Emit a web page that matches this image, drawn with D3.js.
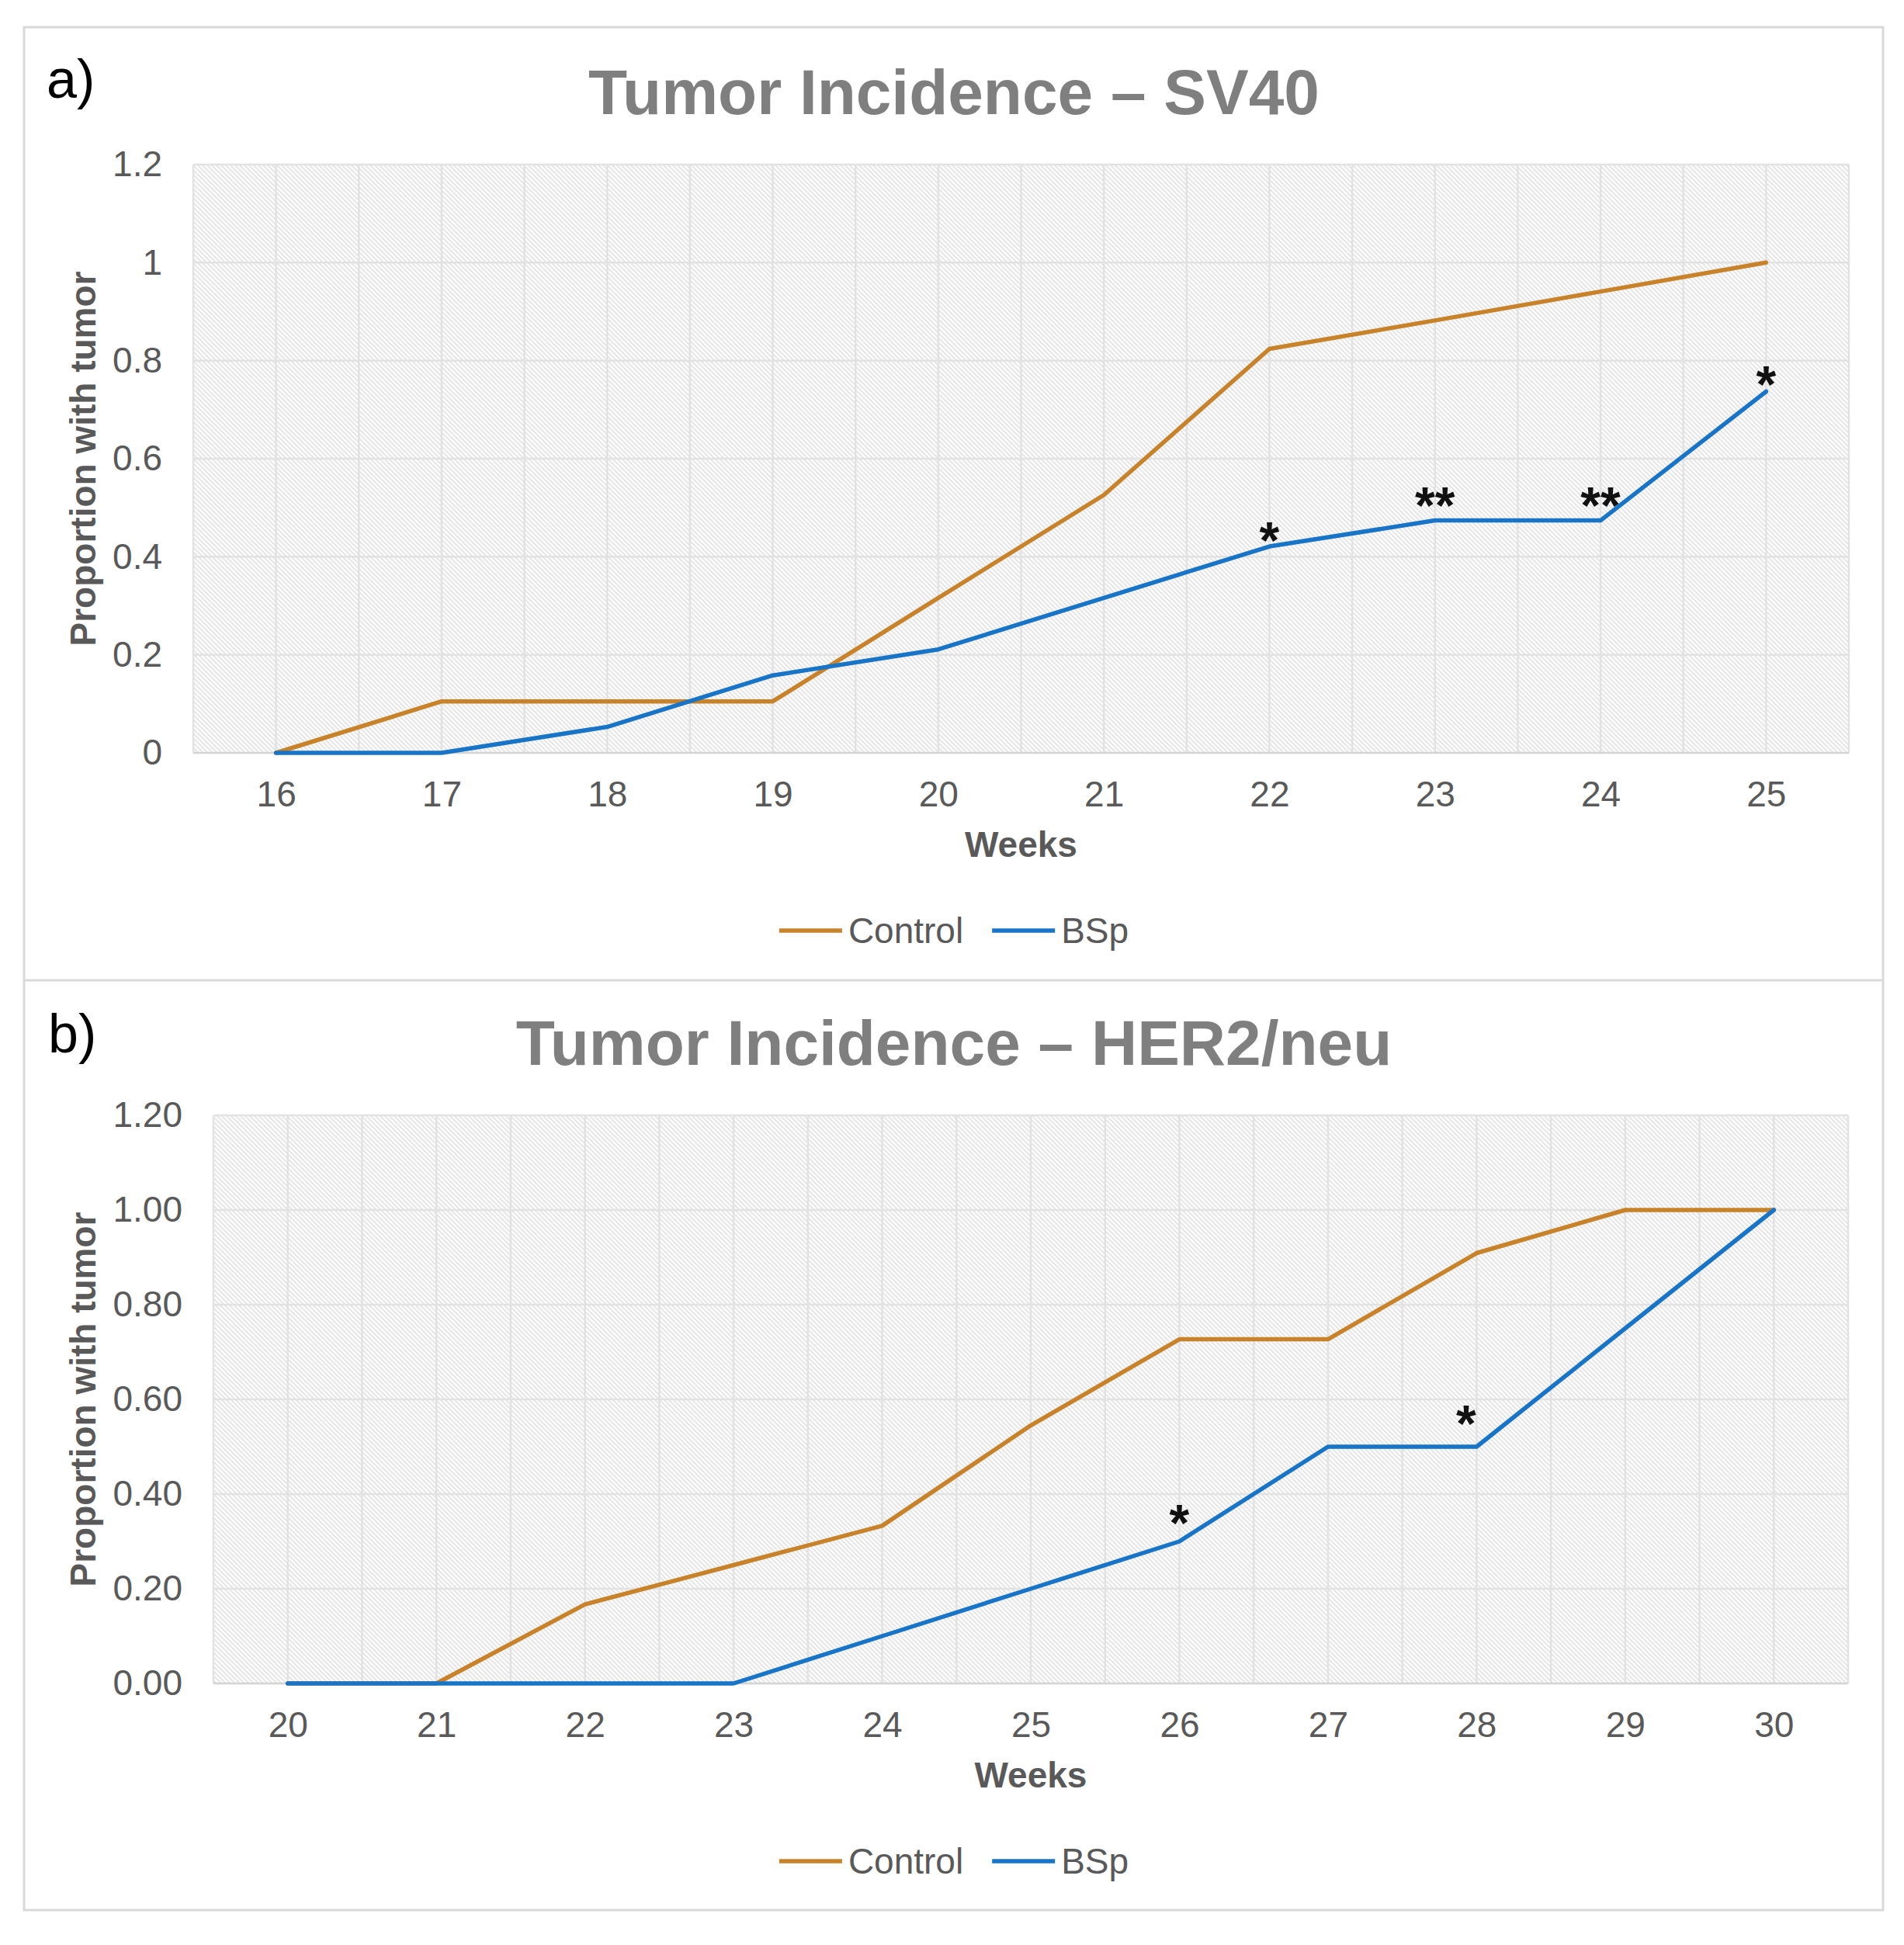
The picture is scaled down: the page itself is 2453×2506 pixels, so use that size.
<!DOCTYPE html>
<html>
<head>
<meta charset="utf-8">
<script src="https://cdn.jsdelivr.net/npm/d3@7"></script>
<style>
  html, body { margin: 0; padding: 0; background: #ffffff; }
  svg { display: block; font-family: "Liberation Sans", Arial, sans-serif; }
</style>
</head>
<body>
<svg id="chart" width="2453" height="2506"></svg>
<script>
// ---------- DATA ----------
const seriesNames = ["Control", "BSp"];

// Panel a) SV40
const weeksA = [16, 17, 18, 19, 20, 21, 22, 23, 24, 25];
const controlA = [0, 0.105, 0.105, 0.105, 0.316, 0.526, 0.824, 0.882, 0.941, 1.0];
const bspA = [0, 0, 0.053, 0.158, 0.211, 0.316, 0.421, 0.474, 0.474, 0.737];
const yTicksA = [0, 0.2, 0.4, 0.6, 0.8, 1, 1.2];
const yTickLabelsA = ["0", "0.2", "0.4", "0.6", "0.8", "1", "1.2"];
const annotWeeksA = [22, 23, 24, 25];
const annotValuesA = [0.458, 0.529, 0.529, 0.775];
const annotLabelsA = ["*", "**", "**", "*"];

// Panel b) HER2/neu
const weeksB = [20, 21, 22, 23, 24, 25, 26, 27, 28, 29, 30];
const controlB = [0, 0, 0.167, 0.25, 0.333, 0.545, 0.727, 0.727, 0.909, 1.0, 1.0];
const bspB = [0, 0, 0, 0, 0.1, 0.2, 0.3, 0.5, 0.5, 0.75, 1.0];
const yTicksB = [0, 0.2, 0.4, 0.6, 0.8, 1.0, 1.2];
const yTickLabelsB = ["0.00", "0.20", "0.40", "0.60", "0.80", "1.00", "1.20"];
const annotWeeksB = [26, 27.93];
const annotValuesB = [0.364, 0.574];
const annotLabelsB = ["*", "*"];

// ---------- STYLE ----------
const colors = { Control: "#C8822A", BSp: "#1874C6" };
const textGray = "#595959";
const titleGray = "#7f7f7f";
const gridColor = "#e2e2e2";
const lineW = 5.5;

const svg = d3.select("#chart");

// hatch pattern
const defs = svg.append("defs");
const pat = defs.append("pattern")
  .attr("id", "hatch")
  .attr("patternUnits", "userSpaceOnUse")
  .attr("width", 6).attr("height", 6);
pat.append("rect").attr("width", 6).attr("height", 6).attr("fill", "#fbfbfb");
pat.append("path")
  .attr("d", "M0,0 L6,6 M-3,3 L3,9 M3,-3 L9,3")
  .attr("stroke", "#e0e0e0").attr("stroke-width", 1.4);

// outer frame
svg.append("rect")
  .attr("x", 31).attr("y", 35).attr("width", 2395).attr("height", 2426)
  .attr("fill", "#ffffff").attr("stroke", "#d9d9d9").attr("stroke-width", 3);
svg.append("line")
  .attr("x1", 31).attr("x2", 2426).attr("y1", 1263).attr("y2", 1263)
  .attr("stroke", "#d9d9d9").attr("stroke-width", 3);

function drawPanel(cfg) {
  const g = svg.append("g");
  const { left, right, top, bottom } = cfg.plot;
  const weeks = cfg.weeks;
  const x = d3.scaleLinear()
    .domain([weeks[0] - 0.5, weeks[weeks.length - 1] + 0.5])
    .range([left, right]);
  const y = d3.scaleLinear().domain([0, 1.2]).range([bottom, top]);

  // background
  g.append("rect")
    .attr("x", left).attr("y", top)
    .attr("width", right - left).attr("height", bottom - top)
    .attr("fill", "url(#hatch)");

  // vertical gridlines every half week
  const vGrid = d3.range(weeks[0] - 0.5, weeks[weeks.length - 1] + 0.51, 0.5);
  g.selectAll(".vgrid").data(vGrid).enter().append("line")
    .attr("x1", d => x(d)).attr("x2", d => x(d))
    .attr("y1", top).attr("y2", bottom)
    .attr("stroke", gridColor).attr("stroke-width", 2.5);

  // horizontal gridlines
  g.selectAll(".hgrid").data(cfg.yTicks).enter().append("line")
    .attr("x1", left).attr("x2", right)
    .attr("y1", d => y(d)).attr("y2", d => y(d))
    .attr("stroke", d => d === 0 ? "#d4d4d4" : gridColor)
    .attr("stroke-width", 2.5);

  // y axis labels
  const yAxis = d3.axisLeft(y).tickValues(cfg.yTicks)
    .tickFormat((d, i) => cfg.yTickLabels[i]).tickSize(0).tickPadding(40);
  const ya = g.append("g").attr("transform", `translate(${left},0)`).call(yAxis);
  ya.select(".domain").remove();
  ya.selectAll("text").attr("font-size", 46).attr("fill", textGray)
    .attr("font-family", "Liberation Sans, Arial, sans-serif");

  // x axis labels
  const xAxis = d3.axisBottom(x).tickValues(weeks).tickFormat(d3.format("d"))
    .tickSize(0).tickPadding(36);
  const xa = g.append("g").attr("transform", `translate(0,${bottom})`).call(xAxis);
  xa.select(".domain").remove();
  xa.selectAll("text").attr("font-size", 46).attr("fill", textGray)
    .attr("font-family", "Liberation Sans, Arial, sans-serif");

  // lines
  const line = d3.line().x(d => x(d[0])).y(d => y(d[1])).curve(d3.curveLinear);
  const seriesData = [cfg.control, cfg.bsp];
  seriesNames.forEach((name, si) => {
    g.append("path")
      .datum(weeks.map((w, i) => [w, seriesData[si][i]]))
      .attr("d", line)
      .attr("fill", "none")
      .attr("stroke", colors[name])
      .attr("stroke-width", lineW)
      .attr("stroke-linejoin", "round")
      .attr("stroke-linecap", "round");
  });

  // annotations
  g.selectAll(".annot").data(cfg.annotLabels).enter().append("text")
    .attr("x", (d, i) => x(cfg.annotWeeks[i]))
    .attr("y", (d, i) => y(cfg.annotValues[i]) + 38)
    .attr("text-anchor", "middle")
    .attr("font-size", 66).attr("font-weight", "bold").attr("fill", "#111")
    .text(d => d);

  // title
  g.append("text")
    .attr("x", 1229).attr("y", top - 65)
    .attr("text-anchor", "middle")
    .attr("font-size", 82).attr("font-weight", "bold").attr("fill", titleGray)
    .text(cfg.title);

  // panel letter
  g.append("text")
    .attr("x", cfg.letterX).attr("y", cfg.letterY)
    .attr("font-size", 70).attr("fill", "#000")
    .text(cfg.letter);

  // axis titles
  g.append("text")
    .attr("x", (left + right) / 2).attr("y", bottom + 134)
    .attr("text-anchor", "middle")
    .attr("font-size", 46).attr("font-weight", "bold").attr("fill", textGray)
    .text("Weeks");
  g.append("text")
    .attr("transform", `translate(123,${(top + bottom) / 2}) rotate(-90)`)
    .attr("text-anchor", "middle")
    .attr("font-size", 46).attr("font-weight", "bold").attr("fill", textGray)
    .text("Proportion with tumor");

  // legend
  const ly = bottom + 229;
  const lg = g.append("g");
  const lineLen = 81, gapTxt = 8, gapItem = 37;
  let cx = 0;
  seriesNames.forEach((name, i) => {
    const item = lg.append("g").attr("transform", `translate(${cx},0)`);
    item.append("line").attr("x1", 0).attr("x2", lineLen)
      .attr("y1", 0).attr("y2", 0)
      .attr("stroke", colors[name]).attr("stroke-width", lineW);
    const t = item.append("text").attr("x", lineLen + gapTxt).attr("y", 16)
      .attr("font-size", 46).attr("fill", textGray).text(name);
    cx += lineLen + gapTxt + t.node().getComputedTextLength() + gapItem;
  });
  const total = cx - gapItem;
  lg.attr("transform", `translate(${1229 - total / 2},${ly})`);
}

drawPanel({
  plot: { left: 249, right: 2382, top: 212, bottom: 970 },
  weeks: weeksA, control: controlA, bsp: bspA,
  yTicks: yTicksA, yTickLabels: yTickLabelsA,
  annotWeeks: annotWeeksA, annotValues: annotValuesA, annotLabels: annotLabelsA,
  title: "Tumor Incidence \u2013 SV40",
  letter: "a)", letterX: 60, letterY: 126
});

drawPanel({
  plot: { left: 275, right: 2381, top: 1437, bottom: 2169 },
  weeks: weeksB, control: controlB, bsp: bspB,
  yTicks: yTicksB, yTickLabels: yTickLabelsB,
  annotWeeks: annotWeeksB, annotValues: annotValuesB, annotLabels: annotLabelsB,
  title: "Tumor Incidence \u2013 HER2/neu",
  letter: "b)", letterX: 62, letterY: 1356
});
</script>
</body>
</html>
